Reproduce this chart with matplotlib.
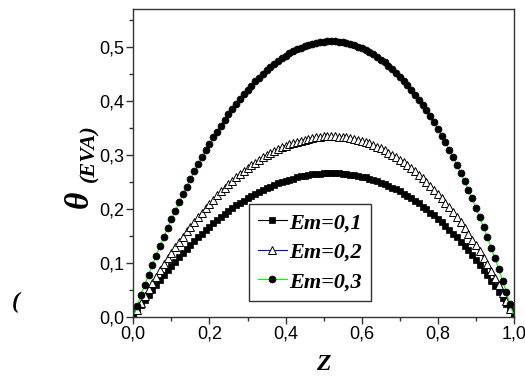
import matplotlib
matplotlib.use('Agg')
import matplotlib.pyplot as plt
from matplotlib.ticker import MultipleLocator, FixedLocator, FixedFormatter
from matplotlib.lines import Line2D

# Z from 0 to 1 in steps of 0.01
z = [i/100 for i in range(101)]
em1 = [0,.010,.021,.031,.040,.050,.059,.068,.077,.086,.094,.102,.110,.118,.126,.133,.140,.147,.154,.160,
       .167,.173,.179,.185,.190,.195,.201,.206,.210,.215,.219,.223,.227,.231,.235,.238,.241,.244,.247,.250,
       .252,.254,.256,.258,.260,.261,.263,.264,.265,.265,.266,.266,.266,.266,.266,.265,.264,.263,.262,.261,
       .259,.258,.256,.253,.251,.248,.245,.242,.239,.236,.232,.228,.224,.219,.215,.210,.204,.199,.193,.188,
       .181,.175,.168,.161,.154,.147,.139,.131,.123,.114,.105,.096,.087,.077,.067,.057,.046,.035,.024,.012,0]
em2 = [0,.013,.026,.038,.051,.063,.074,.086,.097,.108,.118,.129,.139,.148,.158,.167,.176,.185,.193,.201,
       .209,.217,.225,.232,.239,.245,.252,.258,.264,.270,.275,.281,.285,.290,.295,.299,.303,.307,.310,.314,
       .317,.319,.322,.324,.326,.328,.330,.331,.332,.333,.334,.334,.334,.334,.333,.333,.332,.331,.329,.328,
       .326,.323,.321,.318,.315,.312,.308,.304,.300,.296,.291,.286,.281,.275,.269,.263,.257,.250,.243,.235,
       .228,.220,.211,.203,.194,.184,.175,.164,.154,.143,.132,.121,.109,.097,.084,.071,.058,.044,.030,.015,0]
em3 = [0,.020,.040,.059,.077,.096,.113,.131,.148,.164,.181,.196,.212,.227,.241,.255,.269,.282,.295,.308,
       .320,.332,.343,.354,.365,.375,.385,.394,.403,.412,.420,.428,.436,.443,.450,.457,.463,.468,.474,.479,
       .483,.488,.492,.495,.498,.501,.503,.506,.507,.508,.509,.510,.510,.510,.509,.508,.507,.505,.503,.500,
       .497,.494,.490,.486,.481,.476,.471,.465,.458,.452,.444,.437,.429,.420,.411,.402,.392,.382,.371,.360,
       .348,.335,.323,.309,.296,.281,.267,.251,.235,.219,.202,.184,.166,.148,.128,.108,.088,.067,.045,.023,0]

labels = ['Em=0,1', 'Em=0,2', 'Em=0,3']
xticks = [0, 0.2, 0.4, 0.6, 0.8, 1.0]
xtick_labels = ['0,0', '0,2', '0,4', '0,6', '0,8', '1,0']
yticks = [0, 0.1, 0.2, 0.3, 0.4, 0.5]
ytick_labels = ['0,0', '0,1', '0,2', '0,3', '0,4', '0,5']

plt.rcParams.update({'font.family': 'Liberation Sans'})
SERIF = dict(family='Liberation Serif', weight='bold', style='italic')
AX = '#333333'

fig = plt.figure(figsize=(5.25, 3.78), dpi=100)
ax = fig.add_axes([133.3/525, 1-316.7/378, (514-133.3)/525, (316.7-9)/378])

s1 = dict(color='black', lw=0.8, marker='s', ms=4, mfc='black', mec='black', mew=0.5)
s2 = dict(color='blue', lw=0.8, marker='^', ms=5.5, mfc='white', mec='black', mew=0.7)
s3 = dict(color='#00ff00', lw=0.8, marker='o', ms=5, mfc='black', mec='black', mew=0.5)
ax.plot(z, em1, **s1)
ax.plot(z, em2, **s2)
ax.plot(z, em3, **s3)

ax.set_xlim(0, 1); ax.set_ylim(0, 0.57)
ax.xaxis.set_major_locator(FixedLocator(xticks)); ax.xaxis.set_major_formatter(FixedFormatter(xtick_labels))
ax.yaxis.set_major_locator(FixedLocator(yticks)); ax.yaxis.set_major_formatter(FixedFormatter(ytick_labels))
ax.xaxis.set_minor_locator(MultipleLocator(0.1)); ax.yaxis.set_minor_locator(MultipleLocator(0.05))
ax.tick_params(which='both', direction='out', top=False, right=False, labelsize=13, labelcolor='black', pad=1.5)
ax.tick_params(which='major', length=5, width=1, color=AX)
ax.tick_params(which='minor', length=3, width=1, color=AX)
for s in ax.spines.values():
    s.set_color(AX); s.set_linewidth(1)

# y label: theta with (EVA) subscript, rotated
fig.text(79/525, 1-199/378, 'θ', rotation=90, ha='center', va='center', fontsize=24, **SERIF)
fig.text(89/525, 1-153/378, '(EVA)', rotation=90, ha='center', va='center', fontsize=16, **SERIF)
fig.text(323/525, 1-364/378, 'Z', ha='center', va='center', fontsize=17, **SERIF)
fig.text(16/525, 1-302/378, '(', ha='center', va='center', fontsize=17, **SERIF)

handles = [Line2D([], [], **s1), Line2D([], [], **s2), Line2D([], [], **s3)]
leg = ax.legend(handles, labels, loc='lower left', bbox_to_anchor=(0.304, 0.051), borderaxespad=0,
                fancybox=False, edgecolor=AX, framealpha=1, handlelength=1.3, handletextpad=0.1,
                labelspacing=0.4, borderpad=0.4, prop=dict(size=16, **SERIF))
leg.get_frame().set_linewidth(1)

fig.savefig('out.png', dpi=100)
